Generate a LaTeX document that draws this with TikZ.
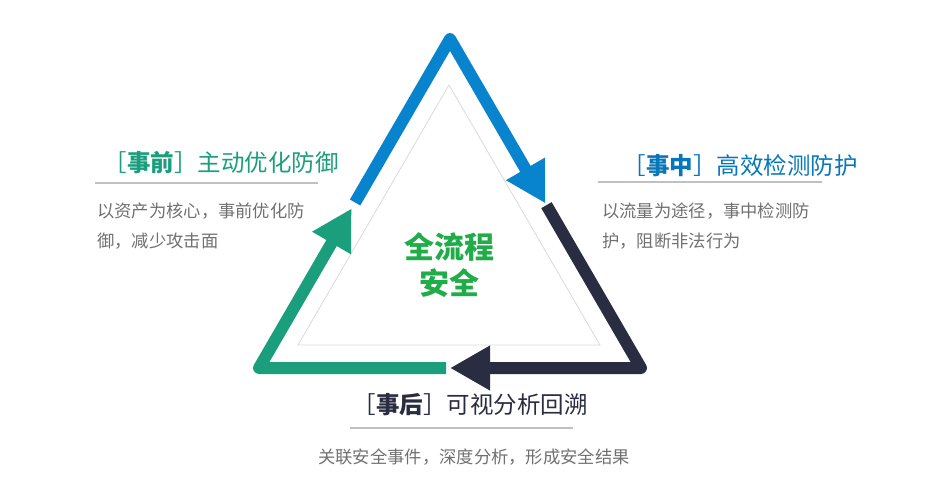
\documentclass[tikz,border=0pt]{standalone}
\usepackage{fontspec}
\setmainfont{Noto Sans CJK SC}
\usepackage{tikz}
\usetikzlibrary{arrows.meta}
\usetikzlibrary{calc}

\definecolor{phaseblue}{RGB}{8,132,206}
\definecolor{phasedark}{RGB}{42,44,66}
\definecolor{phaseteal}{RGB}{26,158,124}
\definecolor{coregreen}{RGB}{32,172,72}
\definecolor{desctext}{RGB}{112,112,112}
\definecolor{rulegray}{RGB}{192,192,192}

\begin{document}
\begin{tikzpicture}[x=1pt, y=-1pt,
    phase/.style={line width=12pt, line join=round, -{Triangle[length=40pt, width=42pt]}},
    title/.style={inner sep=0pt, anchor=east, font=\fontsize{23.5}{28}\selectfont},
    desc/.style={inner sep=0pt, anchor=west, align=left, text=desctext, font=\fontsize{17.3}{30}\selectfont},
    divider/.style={rulegray, line width=1.2pt}]
    \useasboundingbox (0, 0) rectangle (942, 489);
    \coordinate (top) at (450, 39);
    \coordinate (left) at (259, 368);
    \coordinate (right) at (641, 368);
    \coordinate (blue start) at ($(left)!0.503!(top)$);
    \coordinate (blue tip) at ($(right)!0.5!(top)$);
    \coordinate (dark start) at ($(right)!0.495!(top)$);
    \coordinate (dark tip) at ($(left)!0.5!(right)$);
    \coordinate (teal start) at ($(left)!0.49!(right)$);
    \coordinate (teal tip) at ($(left)!0.485!(top)$);
    \draw[rulegray!60, line width=0.8pt] (449, 85) -- (600, 345) -- (298, 345) -- cycle;
    \draw[phase, phaseblue] (blue start) -- (top) -- (blue tip);
    \draw[phase, phasedark] (dark start) -- (right) -- (dark tip);
    \draw[phase, phaseteal] (teal start) -- (left) -- (teal tip);
    \node[coregreen, align=center, font=\fontsize{30}{36}\selectfont\bfseries] (core) at (449, 265) {全流程\\安全};

    \node[title, text=phaseteal] (before) at (339, 163) {［\textbf{事前}］主动优化防御};
    \draw[divider] (95, 183) -- (318, 183);
    \node[desc] (before text) at (97, 226) {以资产为核心，事前优化防\\御，减少攻击面};

    \node[title, text=phaseblue!90!black] (during) at (858, 166) {［\textbf{事中}］高效检测防护};
    \draw[divider] (598, 182) -- (822, 182);
    \node[desc] (during text) at (602, 226) {以流量为途径，事中检测防\\护，阻断非法行为};

    \node[title, text=phasedark] (after) at (588, 405) {［\textbf{事后}］可视分析回溯};
    \draw[divider] (350, 428) -- (573, 428);
    \node[desc, anchor=center] (after text) at (474, 457) {关联安全事件，深度分析，形成安全结果};
\end{tikzpicture}
\end{document}
